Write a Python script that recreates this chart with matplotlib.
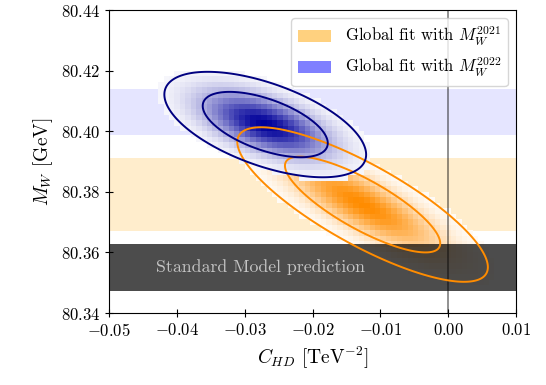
import numpy as np
import matplotlib
matplotlib.use('Agg')
import matplotlib.pyplot as plt
from matplotlib.colors import LinearSegmentedColormap
from matplotlib.patches import Patch

plt.rcParams['font.family'] = 'serif'
plt.rcParams['font.serif'] = ['cmr10']
plt.rcParams['mathtext.fontset'] = 'cm'
plt.rcParams['axes.formatter.use_mathtext'] = True

fit_years = ['2021', '2022']
fit_cx = [-0.01264, -0.0270]
fit_cy = [80.3758, 80.4022]
fit_sx = [0.00755, 0.00608]
fit_sy = [0.01042, 0.00711]
fit_rho = [-0.81, -0.57]
fit_line = ['darkorange', 'navy']
fit_dark = ['#ff8c00', '#00009a']
fit_patch = ['orange', 'blue']

# M_W measurement bands (2021, 2022) and SM prediction
band_lo = [80.3672, 80.3987]
band_hi = [80.3913, 80.4138]
sm_lo, sm_hi = 80.3474, 80.3628

chi2_levels = [2.30, 5.99]


def chi2(x, y, i):
    dx = (x - fit_cx[i]) / fit_sx[i]
    dy = (y - fit_cy[i]) / fit_sy[i]
    r = fit_rho[i]
    return (dx**2 - 2*r*dx*dy + dy**2) / (1 - r**2)


fig = plt.figure(figsize=(5.46, 3.85), dpi=100)
ax = fig.add_axes([0.2002, 0.187, 0.745, 0.787])

for i in range(2):
    ax.axhspan(band_lo[i], band_hi[i], color=fit_patch[i], alpha=[0.2, 0.1][i],
               lw=0, zorder=0)

# binned posterior
xe = np.linspace(-0.05, 0.01, 76)
ye = np.linspace(80.34, 80.44, 56)
xc, yc = np.meshgrid(0.5*(xe[1:]+xe[:-1]), 0.5*(ye[1:]+ye[:-1]))
for i in range(2):
    dens = np.exp(-0.5*chi2(xc, yc, i))
    dens = np.ma.masked_less(dens, 0.035)
    cmap = LinearSegmentedColormap.from_list('c%d' % i, ['white', fit_dark[i]])
    ax.pcolormesh(xe, ye, dens, cmap=cmap, vmin=0, vmax=1, zorder=1+i)

ax.axhspan(sm_lo, sm_hi, color='k', alpha=0.7, lw=0, zorder=3)
ax.text(-0.0431, 0.5*(sm_lo+sm_hi), 'Standard Model prediction', color='#c4c4c4',
        fontsize=12.8, va='center', ha='left', zorder=4)

ax.axvline(0, color='k', alpha=0.5, lw=1.2, zorder=4)

xf, yf = np.meshgrid(np.linspace(-0.05, 0.01, 500), np.linspace(80.34, 80.44, 500))
for i in range(2):
    ax.contour(xf, yf, chi2(xf, yf, i), levels=chi2_levels, colors=fit_line[i],
               linewidths=1.4, zorder=5)

handles = [Patch(facecolor=fit_patch[i], alpha=0.5) for i in range(2)]
labels = [r'Global fit with $M_W^{%s}$' % y for y in fit_years]
ax.legend(handles, labels, loc='upper right', fontsize=12)

ax.set_xlim(-0.05, 0.01)
ax.set_ylim(80.34, 80.44)
ax.set_xticks([-0.05, -0.04, -0.03, -0.02, -0.01, 0.0, 0.01])
ax.set_yticks([80.34, 80.36, 80.38, 80.40, 80.42, 80.44])
ax.ticklabel_format(useOffset=False)
ax.tick_params(direction='inout', length=6, labelsize=12)
ax.set_xlabel(r'$C_{HD}$ [TeV$^{-2}$]', fontsize=14)
ax.set_ylabel(r'$M_W$ [GeV]', fontsize=14)

fig.savefig('out.png', dpi=100)
